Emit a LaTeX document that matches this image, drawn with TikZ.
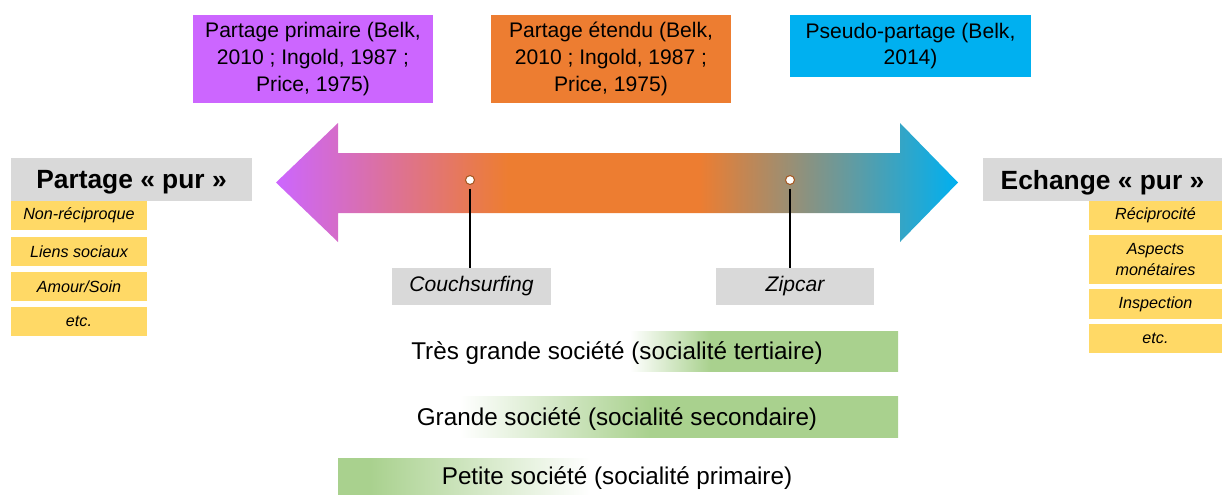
\documentclass[tikz,border=0pt]{standalone}
\usepackage{fontspec}
\setmainfont{Liberation Sans}
\definecolor{ptpurple}{HTML}{CC66FF}
\definecolor{ptorange}{HTML}{ED7D31}
\definecolor{ptblue}{HTML}{00B0F0}
\definecolor{ptgray}{HTML}{D9D9D9}
\definecolor{ptyellow}{HTML}{FFD966}
\definecolor{ptgreen}{HTML}{A9D18E}
\pgfdeclarehorizontalshading{axisshade}{100bp}{color(0bp)=(ptpurple); color(25bp)=(ptpurple); color(42bp)=(ptorange); color(56bp)=(ptorange); color(75bp)=(ptblue); color(100bp)=(ptblue)}
\pgfdeclarehorizontalshading{tresshade}{100bp}{color(0bp)=(white); color(25bp)=(white); color(40bp)=(ptgreen); color(100bp)=(ptgreen)}
\pgfdeclarehorizontalshading{grandeshade}{100bp}{color(0bp)=(white); color(25bp)=(white); color(46.7bp)=(ptgreen); color(100bp)=(ptgreen)}
\pgfdeclarehorizontalshading{petiteshade}{100bp}{color(0bp)=(ptgreen); color(31.3bp)=(ptgreen); color(75bp)=(white); color(100bp)=(white)}
\begin{document}
\begin{tikzpicture}[x=0.02cm,y=-0.02cm]
  \tikzstyle{every node}+=[inner sep=0pt]
  \tikzstyle{refbox}=[minimum width=4.8cm, align=center, font=\fontsize{12}{15.3}\selectfont]
  \tikzstyle{pole}=[fill=ptgray, minimum height=0.86cm, text depth=-0.05cm, font=\fontsize{15}{18}\selectfont\bfseries]
  \tikzstyle{trait}=[fill=ptyellow, minimum height=0.58cm, align=center, font=\fontsize{9.2}{11.5}\selectfont\itshape]
  \tikzstyle{case}=[fill=ptgray, minimum width=3.18cm, minimum height=0.74cm, font=\fontsize{12}{14}\selectfont\itshape]
  \tikzstyle{dot}=[circle, draw=ptorange!70!black, fill=white, minimum size=0.18cm, line width=0.6pt]
  \tikzstyle{society}=[font=\fontsize{13.8}{16}\selectfont]
  \useasboundingbox (0,0) rectangle (1222,495);
  % types de partage
  \node[refbox, fill=ptpurple, minimum height=1.76cm] (primaire) at (313,59) {Partage primaire (Belk,\\2010 ; Ingold, 1987 ;\\Price, 1975)};
  \node[refbox, fill=ptorange, minimum height=1.76cm] (etendu) at (611,59) {Partage étendu (Belk,\\2010 ; Ingold, 1987 ;\\Price, 1975)};
  \node[refbox, fill=ptblue, minimum height=1.24cm, minimum width=4.82cm] (pseudo) at (910.5,46) {Pseudo-partage (Belk,\\2014)};
  % fleche
  \shade[shading=axisshade] (276,182.5) -- (338,123) -- (338,153) -- (900,153) -- (900,123) -- (958,182.5)
    -- (900,242) -- (900,213) -- (338,213) -- (338,242) -- cycle;
  % poles
  \node[pole, minimum width=4.82cm] (pur1) at (131.5,179.5) {Partage « pur »};
  \foreach \t/\y [count=\i] in {Non-réciproque/215.5, Liens sociaux/251.5, {Amour{/}Soin}/286.5, etc./321.5}
    \node[trait, minimum width=2.72cm] (g\i) at (79,\y) {\t};
  \node[pole, minimum width=4.78cm] (pur2) at (1102.5,179.5) {Echange « pur »};
  \node[trait, minimum width=2.66cm] (d1) at (1155.5,215.5) {Réciprocité};
  \node[trait, minimum width=2.66cm, minimum height=0.98cm] (d2) at (1155.5,259.5) {Aspects\\monétaires};
  \node[trait, minimum width=2.66cm, minimum height=0.6cm] (d3) at (1155.5,304) {Inspection};
  \node[trait, minimum width=2.66cm] (d4) at (1155.5,338.5) {etc.};
  % exemples
  \node[dot] (p1) at (470,180) {};
  \node[dot] (p2) at (790,180) {};
  \node[case] (couch) at (471.5,286.5) {Couchsurfing};
  \node[case, minimum width=3.16cm] (zip) at (795,286.5) {Zipcar};
  \draw[line width=1.4pt, shorten <=2pt] (p1) -- (p1 |- couch.north);
  \draw[line width=1.4pt, shorten <=2pt] (p2) -- (p2 |- zip.north);
  % socialite
  \shade[shading=tresshade] (630,331) rectangle (898,371);
  \node[society] (tres) at (617,353) {Très grande société (socialité tertiaire)};
  \shade[shading=grandeshade] (460,396) rectangle (898,437);
  \node[society] (grande) at (617,419) {Grande société (socialité secondaire)};
  \shade[shading=petiteshade] (338,458) rectangle (590,494);
  \node[society] (petite) at (617,478) {Petite société (socialité primaire)};
\end{tikzpicture}
\end{document}
